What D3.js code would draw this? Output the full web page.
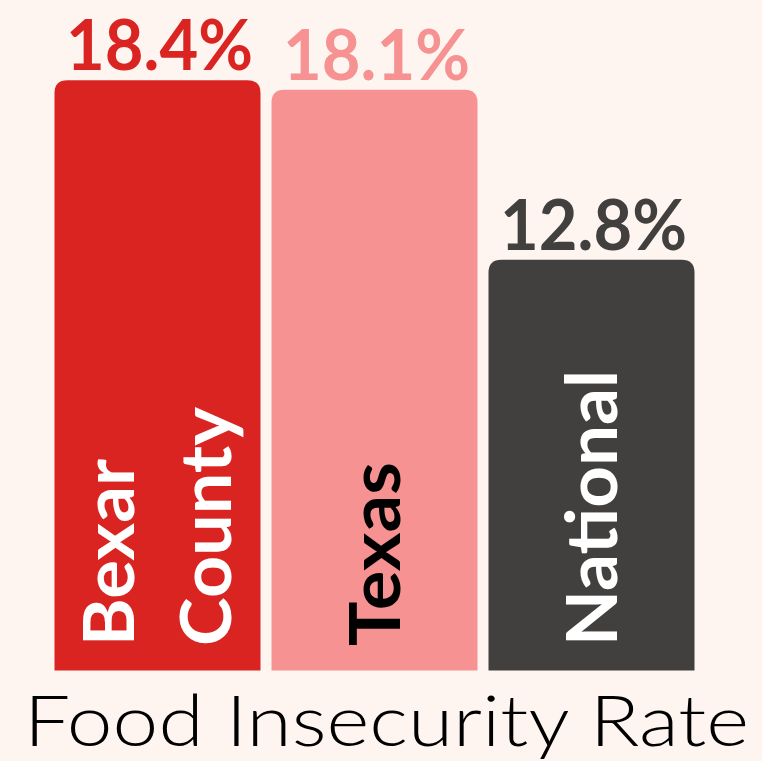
<!DOCTYPE html>
<html>
<head>
<meta charset="utf-8">
<script src="https://cdn.jsdelivr.net/npm/d3@7"></script>
<style>
  body { margin: 0; background: #fef4f0; }
  svg { display: block; }
</style>
</head>
<body>
<script>
var categories = ["Bexar County", "Texas", "National"];
var rates = [18.4, 18.1, 12.8];
var labelLines = [["Bexar", "County"], ["Texas"], ["National"]];
var title = "Food Insecurity Rate";

var width = 762, height = 761;
var colors = ["#d92422", "#f69392", "#42403e"];
var nameColors = ["#ffffff", "#000000", "#ffffff"];
var radius = 13;

var svg = d3.select("body").append("svg")
    .attr("width", width)
    .attr("height", height);

svg.append("rect")
    .attr("width", width)
    .attr("height", height)
    .attr("fill", "#fef4f0");

var x = d3.scaleBand()
    .domain(categories)
    .range([54.5, 694.5])
    .paddingInner(0.0507)
    .paddingOuter(0);

var y = d3.scaleLinear()
    .domain([0, 20.9])
    .range([670.5, 0]);

// bar with rounded top corners only
function barPath(x0, y0, w, h, r) {
    return "M" + x0 + "," + (y0 + h) +
        "V" + (y0 + r) +
        "Q" + x0 + "," + y0 + " " + (x0 + r) + "," + y0 +
        "H" + (x0 + w - r) +
        "Q" + (x0 + w) + "," + y0 + " " + (x0 + w) + "," + (y0 + r) +
        "V" + (y0 + h) + "Z";
}

var data = categories.map(function(c, i) {
    return {name: c, value: rates[i], lines: labelLines[i], i: i};
});

svg.selectAll(".bar")
    .data(data)
    .enter()
    .append("path")
    .attr("class", "bar")
    .attr("d", function(d) {
        return barPath(x(d.name), y(d.value), x.bandwidth(), y(0) - y(d.value), radius);
    })
    .attr("fill", function(d) { return colors[d.i]; });

// value labels above bars
svg.selectAll(".value_label")
    .data(data)
    .enter()
    .append("text")
    .attr("class", "value_label")
    .attr("x", function(d) { return x(d.name) + x.bandwidth() / 2 + 2; })
    .attr("y", function(d) { return y(d.value) - 10; })
    .attr("textLength", 187)
    .attr("text-anchor", "middle")
    .attr("lengthAdjust", "spacingAndGlyphs")
    .style("font-family", "Lato, sans-serif")
    .style("font-weight", "bold")
    .style("font-size", "71px")
    .style("fill", function(d) { return colors[d.i]; })
    .text(function(d) { return d.value.toFixed(1) + "%"; });

// rotated category names inside bars
var nameLengths = {"Bexar": 187, "County": 239, "Texas": 184, "National": 276};
var names = svg.selectAll(".name_label")
    .data(data)
    .enter()
    .append("g")
    .attr("class", "name_label")
    .attr("transform", function(d) {
        return "translate(" + (x(d.name) + x.bandwidth() / 2) + ",646) rotate(-90)";
    });

names.selectAll("text")
    .data(function(d) {
        return d.lines.map(function(l, j) {
            return {text: l, j: j, n: d.lines.length, i: d.i};
        });
    })
    .enter()
    .append("text")
    .attr("x", 0)
    .attr("y", function(d) { return 25 + (d.j - (d.n - 1) / 2) * 97; })
    .attr("textLength", function(d) { return nameLengths[d.text]; })
    .attr("lengthAdjust", "spacingAndGlyphs")
    .style("font-family", "Lato, sans-serif")
    .style("font-weight", "bold")
    .style("font-size", "70px")
    .style("fill", function(d) { return nameColors[d.i]; })
    .text(function(d) { return d.text; });

svg.append("text")
    .attr("x", 24)
    .attr("y", 746)
    .attr("textLength", 725)
    .attr("lengthAdjust", "spacingAndGlyphs")
    .style("font-family", "Lato, sans-serif")
    .style("font-weight", 300)
    .style("font-size", "71px")
    .style("fill", "#000000")
    .text(title);
</script>
</body>
</html>
